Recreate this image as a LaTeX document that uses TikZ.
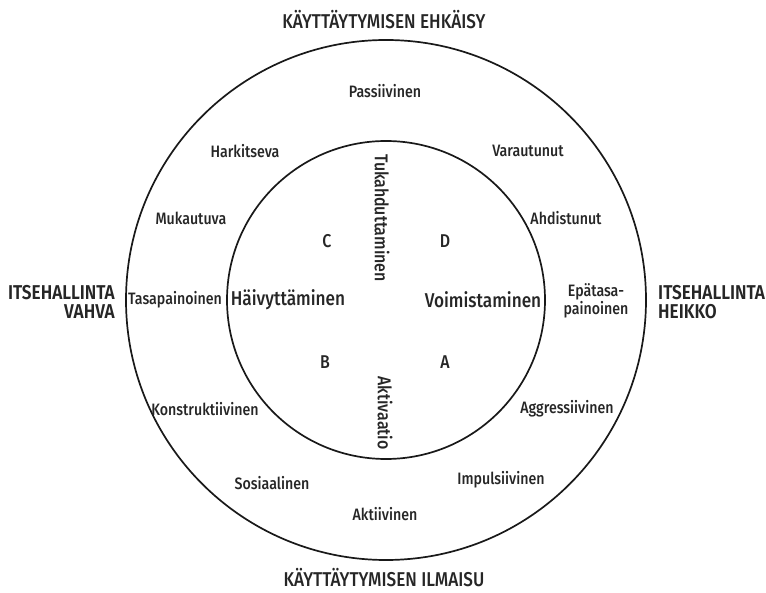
\documentclass[tikz,border=0pt]{standalone}
\usepackage{fontspec}
\setmainfont{Fira Sans Medium}[FakeStretch=0.86]
\newfontfamily\heavy{Fira Sans SemiBold}[FakeStretch=0.86]
\begin{document}
\begin{tikzpicture}[x=1pt,y=-1pt,
  ring/.style={draw=black!90,line width=1.7pt},
  trait/.style={font=\fontsize{16.5}{18}\selectfont,text=black!85,inner sep=1pt},
  mode/.style={font=\fontsize{20}{22}\selectfont,text=black!85,inner sep=1pt},
  vmode/.style={font=\fontsize{18.5}{20}\selectfont,text=black!85,inner sep=1pt,rotate=-90},
  quad/.style={font=\fontsize{18.5}{20}\selectfont,text=black!85,inner sep=1pt},
  axis/.style={font=\fontsize{20}{22}\selectfont,text=black!85,inner sep=1pt},
  side/.style={font=\heavy\fontsize{20}{19}\selectfont,text=black!85,inner sep=1pt,align=left}]
  \useasboundingbox (0,0) rectangle (766,593);
  \coordinate (c) at (386,300);
  % the two rings
  \draw[ring] (c) circle[radius=260];
  \draw[ring] (c) circle[radius=159];
  % axis titles
  \node[axis] (top) at (384,20) {KÄYTTÄYTYMISEN EHKÄISY};
  \node[axis] (bottom) at (384,578) {KÄYTTÄYTYMISEN ILMAISU};
  \node[side,align=right,anchor=east] (left) at (116,302) {ITSEHALLINTA\\VAHVA};
  \node[side,anchor=west] (right) at (657,302) {ITSEHALLINTA\\HEIKKO};
  % outer ring traits
  \node[trait] (t1) at (385,91) {Passiivinen};
  \node[trait] (t2) at (245,151) {Harkitseva};
  \node[trait] (t3) at (528,151) {Varautunut};
  \node[trait] (t4) at (191,218) {Mukautuva};
  \node[trait] (t5) at (566,218) {Ahdistunut};
  \node[trait] (t6) at (175,300) {Tasapainoinen};
  \node[trait,align=center] (t7) at (596,301) {Epätasa-\\painoinen};
  \node[trait] (t8) at (205,409) {Konstruktiivinen};
  \node[trait] (t9) at (567,409) {Aggressiivinen};
  \node[trait] (t10) at (272,483) {Sosiaalinen};
  \node[trait] (t11) at (501,480) {Impulsiivinen};
  \node[trait] (t12) at (385,514) {Aktiivinen};
  % inner circle
  \node[mode] (m1) at (288,300) {Häivyttäminen};
  \node[mode] (m2) at (483,300) {Voimistaminen};
  \node[vmode] (m3) at (382,218) {Tukahduttaminen};
  \node[vmode] (m4) at (385,413) {Aktivaatio};
  \node[quad] (qc) at (327,241) {C};
  \node[quad] (qd) at (445,241) {D};
  \node[quad] (qb) at (325,362) {B};
  \node[quad] (qa) at (445,362) {A};
\end{tikzpicture}
\end{document}
